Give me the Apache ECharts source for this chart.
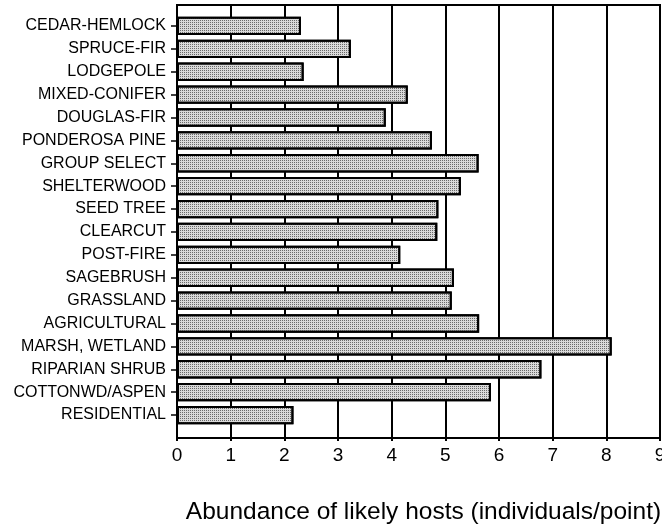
<!DOCTYPE html>
<html>
<head>
<meta charset="utf-8">
<script src="https://cdn.jsdelivr.net/npm/echarts@6/dist/echarts.min.js"></script>
<style>
html,body{margin:0;padding:0;background:#fff;}
#chart{width:662px;height:528px;}
</style>
</head>
<body>
<div id="chart"></div>
<script>
const categories = ["CEDAR-HEMLOCK","SPRUCE-FIR","LODGEPOLE","MIXED-CONIFER","DOUGLAS-FIR","PONDEROSA PINE","GROUP SELECT","SHELTERWOOD","SEED TREE","CLEARCUT","POST-FIRE","SAGEBRUSH","GRASSLAND","AGRICULTURAL","MARSH, WETLAND","RIPARIAN SHRUB","COTTONWD/ASPEN","RESIDENTIAL"];
const abundance = [2.31,3.24,2.36,4.30,3.89,4.75,5.62,5.29,4.87,4.85,4.16,5.16,5.12,5.63,8.10,6.79,5.85,2.17];
const xTicks = [0,1,2,3,4,5,6,7,8,9];
const axisTitle = "Abundance of likely hosts (individuals/point)";

const font = "'Liberation Sans', Arial, Helvetica, sans-serif";
const chart = echarts.init(document.getElementById('chart'), null, {renderer:'canvas'});
chart.setOption({
  animation:false,
  backgroundColor:'#fff',
  grid:[
    {left:177, right:2, top:5, bottom:90, show:true, borderColor:'#000', borderWidth:2, backgroundColor:'transparent', outerBoundsMode:'none', containLabel:false},
    {left:177, right:2, top:14.5, bottom:101.5, outerBoundsMode:'none', containLabel:false}
  ],
  xAxis:[
    {gridIndex:0, type:'value', min:xTicks[0], max:xTicks[xTicks.length-1], interval:1,
     axisLine:{show:true, lineStyle:{color:'#000', width:2}},
     axisTick:{show:true, length:3, lineStyle:{color:'#000', width:2}},
     axisLabel:{color:'#000', fontSize:19, fontFamily:font, margin:8, hideOverlap:false, showMaxLabel:true},
     splitLine:{show:true, lineStyle:{color:'#000', width:2}},
     name:axisTitle, nameLocation:'middle', nameGap:62,
     nameTextStyle:{color:'#000', fontSize:24.5, fontFamily:font, padding:[0,0,0,10]}},
    {gridIndex:1, type:'value', min:xTicks[0], max:xTicks[xTicks.length-1], interval:1, show:false}
  ],
  yAxis:[
    {gridIndex:0, type:'value', min:0, max:1,
     axisLine:{show:true, lineStyle:{color:'#000', width:2}},
     axisTick:{show:false}, axisLabel:{show:false}, splitLine:{show:false}},
    {gridIndex:1, type:'category', data:categories, inverse:true,
     axisLine:{show:false},
     axisTick:{show:true, alignWithLabel:true, length:6, inside:false, lineStyle:{color:'#000', width:1.5}},
     axisLabel:{color:'#000', fontSize:16, fontFamily:font, margin:11},
     splitLine:{show:false}}
  ],
  series:[{
    type:'bar', xAxisIndex:1, yAxisIndex:1, data:abundance,
    barWidth:'80%',
    itemStyle:{color:'#d9d9d9', borderColor:'#000', borderWidth:2,
      decal:{symbol:'rect', symbolSize:1, color:'#6a6a6a', dashArrayX:[1,1], dashArrayY:[1,1], rotation:0}},
    emphasis:{disabled:true}
  }]
});
</script>
</body>
</html>
